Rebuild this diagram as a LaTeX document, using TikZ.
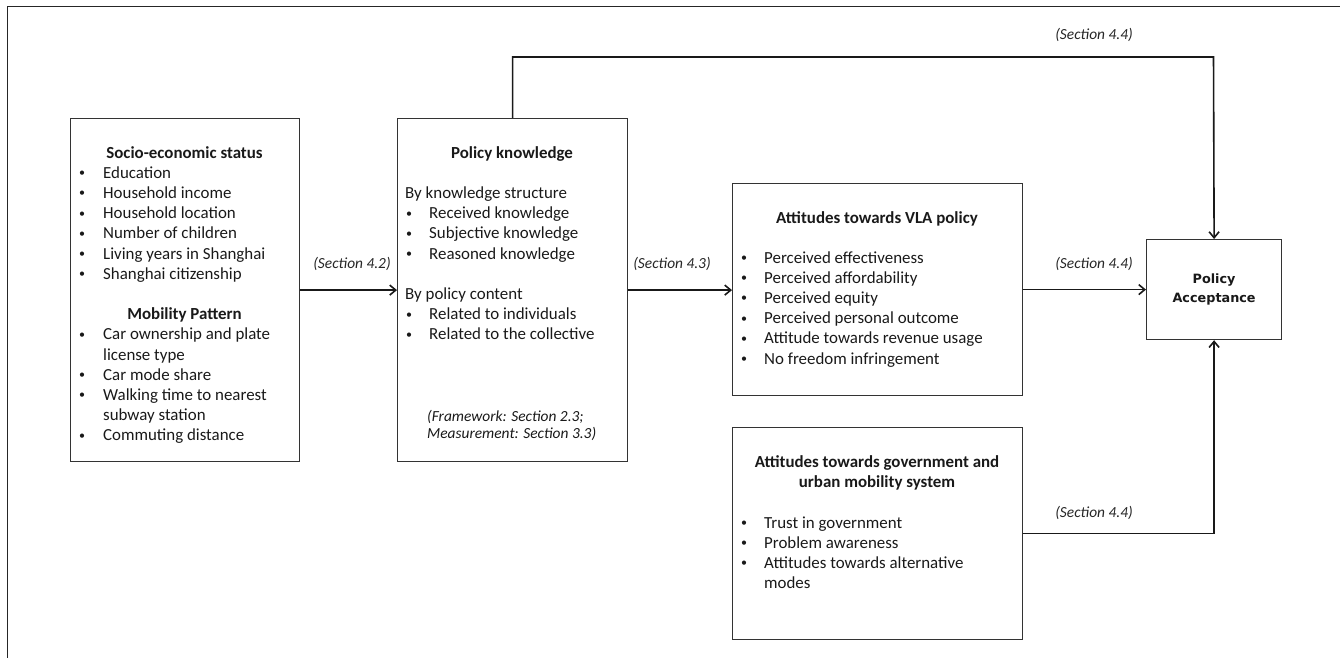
\documentclass[tikz,border=0pt]{standalone}
\usepackage{fontspec}
\setmainfont{Carlito}
\newfontfamily\accfont{DejaVu Sans}
\usetikzlibrary{arrows.meta}
\newcommand{\dotmark}{\raisebox{1.6pt}{\fontsize{12}{12}\selectfont\textbullet}}

\begin{document}
\begin{tikzpicture}[x=1pt,y=-1pt,
    box/.style={draw=black!80, line width=1.2pt, anchor=north west, inner sep=0pt},
    item/.style={anchor=base west, inner sep=0pt, text=black!90, font=\fontsize{16.9}{20}\selectfont},
    head/.style={anchor=base, inner sep=0pt, text=black!90, font=\fontsize{16.9}{20}\selectfont\bfseries},
    sect/.style={anchor=base, inner sep=0pt, text=black!85, font=\fontsize{15.4}{17}\selectfont\itshape},
    arr/.style={-{Straight Barb[length=6pt,width=10pt]}, line width=1.6pt, black!90}]
    \useasboundingbox (0,0) rectangle (1340,658);
    % Frame
    \draw[line width=1pt, black!85] (1340,7) -- (7,7) -- (7,658);
    % Socio-economic status and mobility
    \node[box, minimum width=229, minimum height=343] (Socio) at (70,118) {};
    \node[head] (Socio-head) at (184.5,158) {Socio-economic status};
    \node[head] (Mobility-head) at (184.5,158+8*20.2) {Mobility Pattern};
    \foreach \name/\i/\b in {Education/1/1, Household income/2/1,
        Household location/3/1, Number of children/4/1,
        Living years in Shanghai/5/1, Shanghai citizenship/6/1,
        Car ownership and plate/9/1, license type/10/0, Car mode share/11/1,
        Walking time to nearest/12/1, subway station/13/0,
        Commuting distance/14/1} {
        \node[item] (Socio-\i) at (103,158+\i*20.2) {\name};
        \ifnum \b=1
            \node[item] (Socio-dot-\i) at (79,158+\i*20.2) {\dotmark};
        \fi
    }
    % Policy knowledge
    \node[box, minimum width=230, minimum height=343] (Know) at (397,118) {};
    \node[head] (Know-head) at (512,158) {Policy knowledge};
    \foreach \name/\i/\b in {By knowledge structure/2/0, Received knowledge/3/1,
        Subjective knowledge/4/1, Reasoned knowledge/5/1,
        By policy content/7/0, Related to individuals/8/1,
        Related to the collective/9/1} {
        \ifnum \b=1
            \node[item] (Know-\i) at (429,158+\i*20.2) {\name};
            \node[item] (Know-dot-\i) at (406,158+\i*20.2) {\dotmark};
        \else
            \node[item] (Know-\i) at (405,158+\i*20.2) {\name};
        \fi
    }
    \node[item, font=\fontsize{15.4}{17}\selectfont\itshape] (Know-ref1) at (427,421) {(Framework: Section 2.3;};
    \node[item, font=\fontsize{15.4}{17}\selectfont\itshape] (Know-ref2) at (427,438) {Measurement: Section 3.3)};
    % Attitudes towards VLA policy
    \node[box, minimum width=290, minimum height=212] (VLA) at (732,183) {};
    \node[head] (VLA-head) at (877,223) {Attitudes towards VLA policy};
    \foreach \name/\i in {Perceived effectiveness/0, Perceived affordability/1,
        Perceived equity/2, Perceived personal outcome/3,
        Attitude towards revenue usage/4, No freedom infringement/5} {
        \node[item] (VLA-\i) at (764,263+\i*20.2) {\name};
        \node[item] (VLA-dot-\i) at (741,263+\i*20.2) {\dotmark};
    }
    % Attitudes towards government
    \node[box, minimum width=290, minimum height=212] (Gov) at (732,427) {};
    \node[head] (Gov-head1) at (877,467) {Attitudes towards government and};
    \node[head] (Gov-head2) at (877,487) {urban mobility system};
    \foreach \name/\i/\b in {Trust in government/0/1, Problem awareness/1/1,
        Attitudes towards alternative/2/1, modes/3/0} {
        \node[item] (Gov-\i) at (764,528+\i*20.2) {\name};
        \ifnum \b=1
            \node[item] (Gov-dot-\i) at (741,528+\i*20.2) {\dotmark};
        \fi
    }
    % Policy acceptance
    \node[box, minimum width=135, minimum height=100, align=center, text=black!90,
        font=\accfont\fontsize{12.8}{19.5}\selectfont\bfseries] (Accept) at (1146,239) {Policy\\Acceptance};
    % Arrows
    \coordinate (TopTurn) at (1213.5,57);
    \draw[arr] (Socio) -- (Know);
    \draw[arr] (Know.east) -- (Know.east -| VLA.west);
    \draw[arr] (VLA.east |- Accept.west) -- (Accept.west);
    \draw[arr] (Know.north) |- (TopTurn) -- (Accept.north);
    \draw[arr] (Gov.east) -| (Accept.south);
    % Section labels
    \node[sect] (Sec-42) at (352,268) {(Section 4.2)};
    \node[sect] (Sec-43) at (672,268) {(Section 4.3)};
    \node[sect] (Sec-44a) at (1094,40) {(Section 4.4)};
    \node[sect] (Sec-44b) at (1094,268) {(Section 4.4)};
    \node[sect] (Sec-44c) at (1094,517) {(Section 4.4)};
\end{tikzpicture}
\end{document}
